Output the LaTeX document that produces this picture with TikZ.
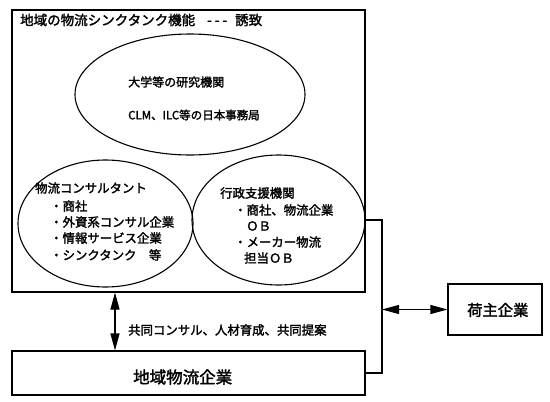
\documentclass[tikz,border=0pt]{standalone}
\usepackage{fontspec}
\newfontfamily\jp{Noto Sans CJK JP}[FakeBold=2]
\usetikzlibrary{shapes.geometric,arrows.meta}
\newcommand{\fsz}[1]{\fontsize{#1}{#1}\selectfont}
\begin{document}
\begin{tikzpicture}[x=1pt,y=-1pt,font=\jp,
  txt/.style={inner sep=0pt, anchor=west},
  boxnode/.style={draw, line width=1.1pt, inner sep=0pt},
  ellnode/.style={draw, ellipse, line width=1.1pt, inner sep=0pt},
  conn/.style={line width=1.1pt},
  dbl/.style={line width=1.1pt, {Triangle[length=17pt,width=9pt]}-{Triangle[length=17pt,width=9pt]}}]
\useasboundingbox (0,0) rectangle (550,402);
% boxes
\node[boxnode, minimum width=353pt, minimum height=282pt] (main) at (188.5,151) {};
\node[boxnode, minimum width=353pt, minimum height=44pt] (bot) at (188.5,373) {};
\node[boxnode, minimum width=94pt, minimum height=51pt] (ship) at (495,309.5) {};
% ellipses
\node[ellnode, minimum width=230pt, minimum height=121pt] (te) at (190,94.5) {};
\node[ellnode, minimum width=175pt, minimum height=127pt] (le) at (105.5,223.5) {};
\node[ellnode, minimum width=173pt, minimum height=130pt] (re) at (278.5,220) {};
% texts
\node[txt, font=\jp\fsz{13.5}] (title) at (20,20) {地域の物流シンクタンク機能\hspace{12pt}-\kern3pt-\kern3pt-\hspace{8pt}誘致};
\node[txt, font=\jp\fsz{12}] (t1) at (128,82) {大学等の研究機関};
\node[txt, font=\jp\fsz{11.5}] (t2) at (128,115) {CLM、ILC等の日本事務局};
\node[txt, font=\jp\fsz{12.4}] (l1) at (35,188) {物流コンサルタント};
\node[txt, font=\jp\fsz{12.4}] (l2) at (50,206) {・商社};
\node[txt, font=\jp\fsz{12.4}] (l3) at (50,222) {・外資系コンサル企業};
\node[txt, font=\jp\fsz{12.4}] (l4) at (50,238) {・情報サービス企業};
\node[txt, font=\jp\fsz{12.4}] (l5) at (50,255) {・シンクタンク　等};
\node[txt, font=\jp\fsz{12.4}] (r1) at (220,193) {行政支援機関};
\node[txt, font=\jp\fsz{12.4}] (r2) at (234,210) {・商社、物流企業};
\node[txt, font=\jp\fsz{12.4}] (r3) at (246,226) {ＯＢ};
\node[txt, font=\jp\fsz{12.4}] (r4) at (234,242) {・メーカー物流};
\node[txt, font=\jp\fsz{12.4}] (r5) at (244,258) {担当ＯＢ};
\node[txt, font=\jp\fsz{12.4}] (lab) at (128,330) {共同コンサル、人材育成、共同提案};
\node[txt, font=\jp\fsz{16.5}] (botx) at (133,377) {地域物流企業};
\node[txt, font=\jp\fsz{15.3}] (shipx) at (467,310) {荷主企業};
% connectors
\coordinate (va) at (115,0);
\coordinate (bus) at (382,300);
\draw[dbl] (va |- main.south) -- (va |- bot.north);
\draw[conn] (re.east) -| (bus) |- (bot.east);
\draw[dbl] (bus |- ship.west) -- (ship.west);
\end{tikzpicture}
\end{document}
